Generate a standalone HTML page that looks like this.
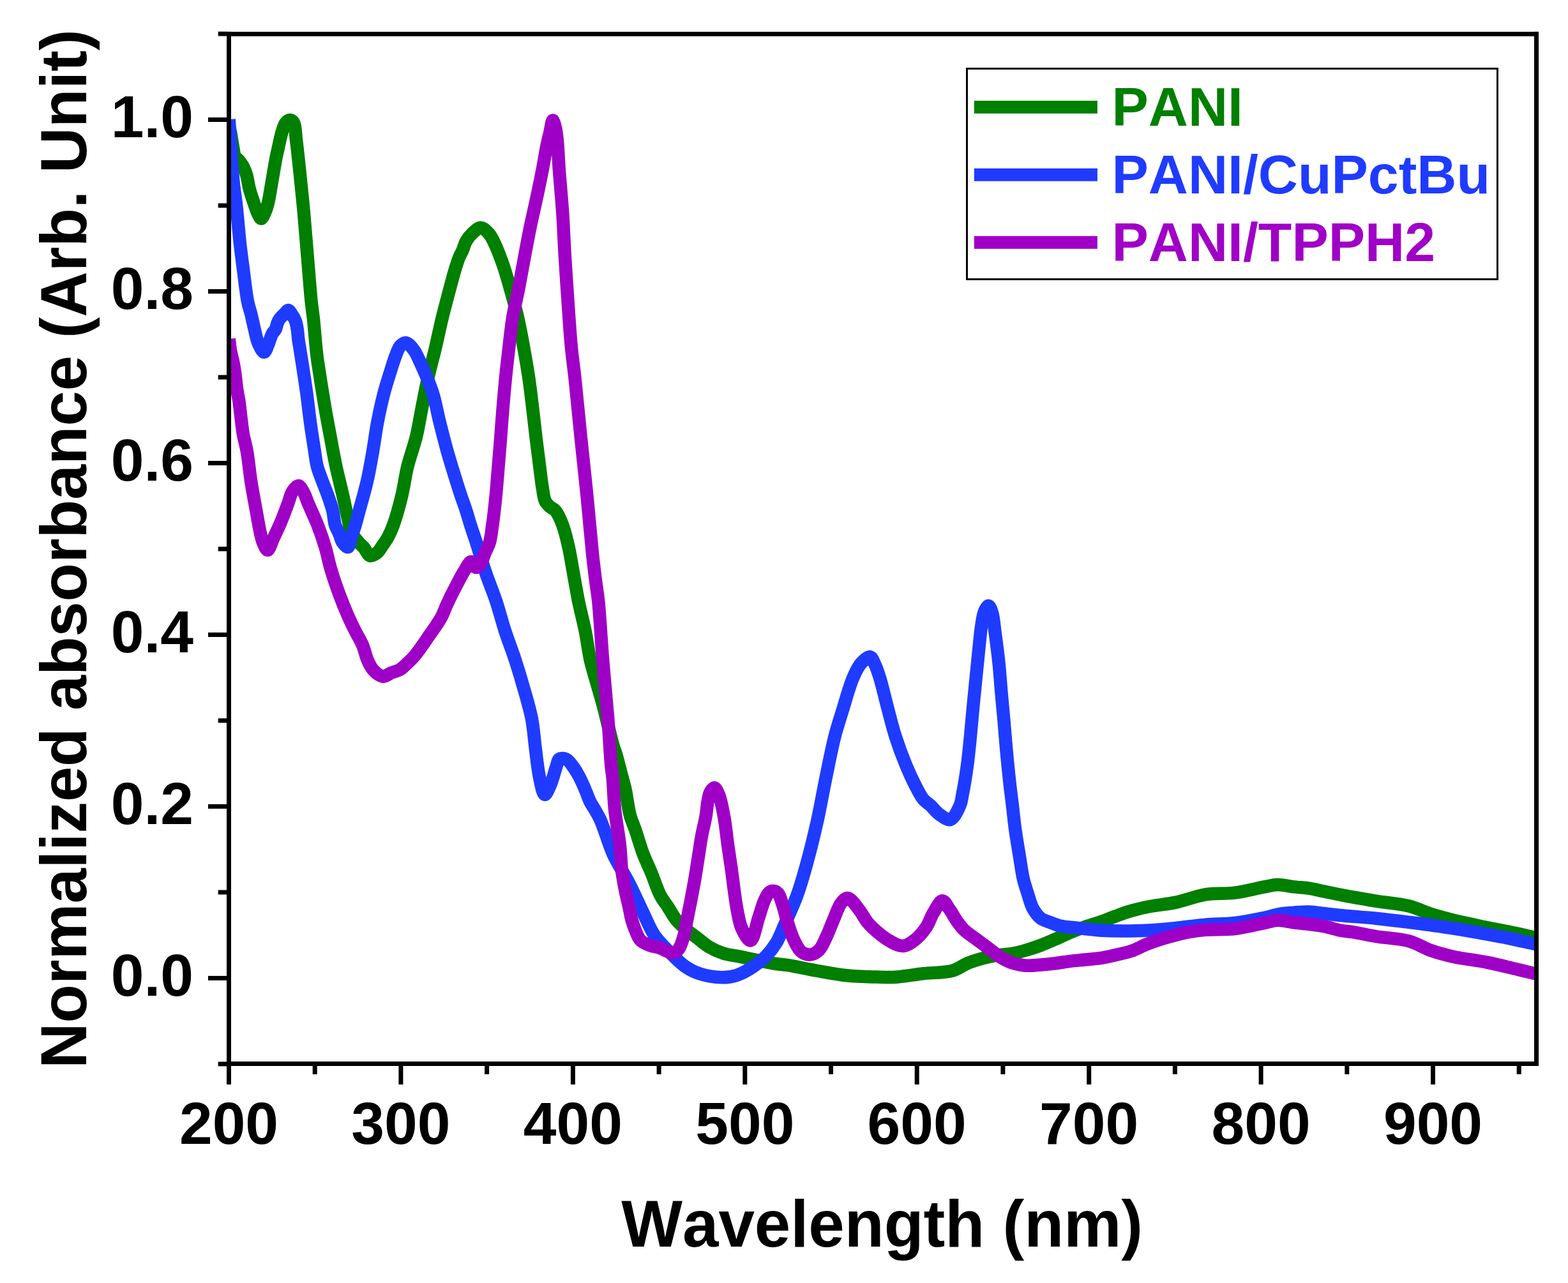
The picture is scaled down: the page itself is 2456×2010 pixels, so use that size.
<!DOCTYPE html><html><head><meta charset="utf-8"><title>Normalized absorbance</title>
<style>html,body{margin:0;padding:0;background:#fff}svg{display:block}text{font-family:"Liberation Sans",Arial,sans-serif;font-weight:bold;font-kerning:none}</style></head><body>
<svg width="2456" height="2010" viewBox="0 0 2456 2010">
<rect width="2456" height="2010" fill="#fff"/>
<defs><clipPath id="pc"><rect x="358.5" y="53.3" width="2048.0" height="1613.2"/></clipPath></defs>
<g clip-path="url(#pc)" fill="none" stroke-width="20.5" stroke-linejoin="round" stroke-linecap="butt">
<path stroke="#007f00" d="M358.5,196.0 C359.4,200.0 360.3,203.3 361.2,208.0 C362.5,214.6 363.9,225.2 365.2,232.0 C366.2,237.0 366.2,241.7 368.0,245.0 C369.4,247.6 372.0,248.6 374.0,251.0 C376.4,253.8 379.0,257.3 381.0,261.0 C383.1,264.8 384.5,268.7 386.0,273.6 C388.0,280.1 388.9,289.1 390.9,296.7 C393.0,304.4 395.9,312.7 398.3,319.7 C400.4,325.6 402.3,331.9 404.5,336.0 C406.0,338.8 407.5,342.5 409.1,342.5 C411.0,342.4 413.3,336.5 415.0,333.0 C416.9,329.0 418.1,325.2 419.5,319.7 C421.8,311.0 423.8,296.7 425.8,285.2 C427.9,273.7 429.9,260.5 431.8,250.6 C433.2,243.1 434.5,237.8 436.0,231.0 C437.7,223.5 439.4,214.4 441.5,207.6 C443.2,202.1 444.5,196.4 447.0,193.0 C448.9,190.5 451.5,188.1 453.7,188.0 C455.8,187.9 458.4,189.5 460.0,192.0 C463.1,196.8 462.7,208.8 464.0,219.0 C465.7,232.3 467.3,248.3 469.1,265.2 C471.3,285.9 473.9,311.2 476.0,334.3 C478.1,357.3 479.9,380.4 481.8,403.5 C483.7,426.5 485.8,454.8 487.6,472.6 C488.8,483.8 489.9,489.5 491.0,500.0 C492.5,514.2 494.2,537.3 495.6,550.0 C496.5,557.8 496.8,560.7 498.0,569.0 C500.3,584.8 505.5,617.3 509.0,638.0 C511.9,655.0 514.6,668.9 517.5,684.3 C520.4,699.7 523.0,715.1 526.3,730.4 C529.6,745.8 533.9,762.2 537.1,776.5 C539.9,788.8 542.3,800.7 544.7,811.0 C546.7,819.5 547.3,827.2 550.5,834.0 C553.5,840.4 559.3,846.7 563.0,851.0 C565.5,854.0 567.6,855.2 570.0,858.0 C573.0,861.5 575.8,869.5 579.5,870.5 C582.8,871.4 587.3,868.5 590.6,866.0 C594.4,863.1 597.3,857.3 600.3,853.0 C603.1,849.0 605.6,845.5 608.0,841.0 C610.9,835.6 613.3,830.2 616.1,822.6 C620.4,810.8 625.6,791.9 629.3,776.5 C633.0,761.2 634.7,745.7 638.5,730.4 C642.3,714.9 648.2,699.8 652.0,684.3 C655.7,669.0 657.9,653.6 661.0,638.2 C664.0,622.9 666.8,607.5 670.3,592.2 C673.8,576.8 678.1,561.5 681.8,546.1 C685.4,530.8 688.4,515.7 692.2,500.0 C696.2,483.5 701.5,463.8 705.3,449.5 C708.1,438.9 710.4,430.1 712.9,421.9 C715.0,415.1 716.9,408.9 719.1,403.5 C720.9,399.1 722.9,396.0 724.7,391.9 C726.6,387.5 727.5,382.4 730.0,378.0 C732.6,373.4 736.4,368.6 740.3,365.0 C744.1,361.6 748.8,356.6 753.0,356.7 C757.1,356.8 761.7,361.6 765.0,365.0 C768.2,368.4 769.9,371.7 772.6,377.0 C777.2,386.0 783.6,402.5 788.0,415.0 C792.1,426.7 794.9,437.1 798.4,449.5 C802.4,463.7 807.0,480.1 810.6,495.6 C814.2,511.2 817.1,527.0 820.0,543.0 C823.0,559.2 825.9,576.1 828.3,592.2 C830.6,607.8 832.3,622.9 834.1,638.2 C836.0,653.6 837.6,668.9 839.4,684.3 C841.3,699.7 843.4,716.1 845.2,730.4 C846.8,742.8 848.1,755.1 849.8,765.0 C851.1,772.6 851.5,779.9 854.0,785.0 C855.8,788.8 858.6,791.3 861.3,793.8 C863.9,796.2 867.3,796.8 870.0,800.0 C874.2,804.9 878.1,814.1 881.3,822.6 C885.1,832.7 888.0,845.5 890.6,857.1 C893.2,868.6 894.7,879.1 897.0,891.7 C899.8,906.9 902.9,925.8 906.2,942.2 C909.4,957.9 913.5,972.8 916.6,988.2 C919.7,1003.5 921.5,1020.2 924.7,1034.3 C927.4,1046.5 930.8,1056.6 934.0,1068.0 C937.3,1079.7 941.0,1091.6 944.2,1103.5 C947.4,1115.6 950.4,1128.4 953.3,1140.0 C956.0,1150.5 958.8,1162.7 961.0,1170.0 C962.3,1174.3 963.2,1175.6 964.5,1180.0 C967.0,1188.0 971.0,1204.5 973.7,1214.6 C975.8,1222.4 977.4,1227.2 979.2,1235.3 C981.8,1246.7 983.7,1265.1 986.8,1276.8 C989.2,1285.8 992.1,1291.3 995.1,1300.0 C998.9,1311.1 1003.2,1326.5 1007.6,1338.2 C1011.5,1348.4 1015.6,1356.4 1019.8,1366.4 C1024.5,1377.6 1029.1,1392.6 1034.2,1402.4 C1038.1,1409.9 1042.3,1414.7 1046.4,1421.1 C1050.7,1427.7 1054.5,1435.3 1059.4,1441.3 C1064.1,1447.0 1069.6,1451.9 1075.0,1456.5 C1080.2,1460.9 1085.5,1464.4 1091.0,1468.6 C1097.0,1473.2 1102.9,1478.9 1109.7,1483.0 C1116.8,1487.2 1124.6,1490.8 1132.8,1493.4 C1141.4,1496.2 1150.9,1497.0 1160.0,1498.9 C1169.3,1500.8 1179.3,1503.0 1188.2,1504.8 C1196.3,1506.4 1203.6,1508.2 1211.3,1509.4 C1219.0,1510.6 1225.3,1510.8 1234.3,1512.2 C1247.0,1514.2 1265.0,1518.3 1280.4,1521.0 C1295.7,1523.7 1311.1,1526.7 1326.5,1528.3 C1341.8,1529.9 1359.2,1530.2 1372.6,1530.6 C1382.9,1530.9 1391.7,1531.4 1400.0,1531.0 C1406.8,1530.7 1411.9,1529.8 1418.7,1529.0 C1427.0,1528.0 1435.8,1526.5 1446.1,1525.3 C1459.5,1523.7 1479.7,1524.3 1492.2,1520.7 C1501.5,1518.0 1507.4,1512.4 1515.2,1509.2 C1522.8,1506.1 1530.5,1503.7 1538.2,1501.6 C1545.8,1499.5 1553.6,1497.7 1561.3,1496.5 C1568.9,1495.3 1576.7,1495.5 1584.3,1494.2 C1592.0,1492.9 1599.8,1490.7 1607.4,1488.5 C1615.1,1486.3 1622.8,1483.8 1630.4,1480.9 C1638.1,1478.0 1645.8,1474.5 1653.5,1471.2 C1661.2,1467.8 1668.8,1464.0 1676.5,1460.8 C1684.1,1457.6 1691.8,1454.8 1699.5,1452.1 C1707.2,1449.4 1714.9,1447.4 1722.6,1444.7 C1730.3,1442.0 1737.9,1438.8 1745.6,1436.0 C1753.3,1433.2 1760.6,1430.3 1768.7,1427.9 C1777.4,1425.3 1785.7,1423.1 1796.1,1421.0 C1809.4,1418.3 1826.9,1416.8 1842.2,1413.6 C1857.6,1410.3 1872.7,1403.9 1888.2,1401.4 C1903.4,1398.9 1919.0,1400.6 1934.3,1398.6 C1949.7,1396.6 1968.0,1391.7 1980.4,1389.4 C1988.7,1387.9 1993.9,1386.0 2001.2,1385.9 C2009.2,1385.8 2018.2,1388.4 2026.5,1389.4 C2034.5,1390.3 2042.3,1390.4 2050.0,1391.6 C2057.6,1392.7 2064.6,1394.6 2072.6,1396.3 C2081.8,1398.2 2091.0,1400.2 2102.3,1402.4 C2117.3,1405.3 2137.2,1408.7 2154.7,1411.6 C2172.1,1414.4 2191.5,1415.6 2207.0,1419.5 C2220.0,1422.8 2230.2,1428.3 2241.9,1432.0 C2253.5,1435.7 2263.9,1438.4 2276.8,1441.6 C2292.4,1445.5 2311.7,1449.3 2329.1,1453.0 C2346.5,1456.6 2367.7,1460.5 2381.4,1463.5 C2390.3,1465.4 2397.6,1467.4 2403.3,1468.7 C2406.9,1469.5 2409.1,1469.9 2412.0,1470.5"/>
<path stroke="#1f3bff" d="M358.8,187.0 C359.9,204.3 360.8,222.2 362.0,239.0 C363.1,254.8 364.0,270.7 365.5,285.0 C366.8,297.5 368.9,309.9 370.0,320.0 C370.9,327.6 371.2,332.2 372.0,340.0 C373.1,351.0 374.3,366.2 375.8,380.0 C377.4,394.9 379.6,411.0 381.6,426.5 C383.6,441.9 385.6,460.7 388.0,472.6 C389.6,480.3 391.4,484.9 393.1,491.5 C394.9,498.8 396.5,506.9 398.4,514.6 C400.3,522.3 401.6,531.0 404.5,537.6 C406.9,543.1 411.0,551.9 413.7,551.8 C416.1,551.7 418.0,544.4 420.0,540.0 C422.3,534.9 424.1,527.0 426.5,522.7 C428.1,519.8 430.3,518.6 431.6,516.0 C433.0,513.2 433.3,509.4 434.5,506.5 C435.5,503.9 436.3,501.8 438.0,499.5 C440.1,496.5 444.2,493.1 446.7,490.6 C448.5,488.8 449.7,485.9 451.4,486.0 C453.6,486.1 456.7,492.0 458.7,495.0 C460.5,497.7 461.8,500.0 462.9,503.0 C464.2,506.4 464.8,510.3 465.5,514.6 C466.4,519.7 466.7,526.5 467.4,531.8 C468.0,536.5 468.7,539.9 469.5,545.0 C470.6,551.8 471.9,559.8 473.3,569.1 C475.3,582.0 478.1,599.8 480.2,615.2 C482.3,630.6 483.9,645.9 486.0,661.3 C488.1,676.7 490.9,694.7 492.9,707.4 C494.3,716.4 494.9,722.8 496.8,730.4 C498.8,738.2 502.0,745.8 504.8,753.5 C507.6,761.2 510.9,768.8 513.6,776.5 C516.3,784.1 519.1,791.8 521.0,799.5 C522.9,807.1 523.0,815.9 525.0,822.4 C526.6,827.6 529.3,831.4 531.2,836.0 C533.2,840.6 534.1,846.2 536.7,849.9 C538.9,853.1 542.9,857.8 545.0,857.2 C547.5,856.5 548.1,848.2 549.8,843.0 C551.9,836.7 554.6,829.2 556.7,822.2 C558.8,815.3 560.1,809.8 562.3,801.5 C565.7,788.8 571.5,769.4 575.1,753.5 C578.6,738.0 581.2,722.8 583.9,707.4 C586.6,692.1 588.4,676.6 591.3,661.3 C594.3,645.9 597.9,629.4 601.6,615.2 C604.9,602.8 608.7,590.9 612.0,580.6 C614.7,572.1 616.9,564.4 619.6,557.6 C621.9,551.8 623.8,545.5 627.0,542.0 C629.5,539.3 632.7,536.6 635.7,536.9 C639.6,537.3 644.4,543.3 648.0,548.0 C652.3,553.6 654.9,560.6 658.8,569.1 C664.4,581.4 672.6,599.6 677.6,615.2 C682.5,630.4 684.9,646.0 688.7,661.3 C692.6,676.7 696.6,692.9 700.7,707.4 C704.4,720.6 708.3,733.0 712.0,745.0 C715.4,756.0 718.8,766.8 722.0,776.5 C724.8,784.8 727.5,791.8 730.0,799.5 C732.5,807.2 734.5,814.6 737.0,822.6 C739.8,831.4 742.8,839.7 746.1,850.0 C750.4,863.4 755.2,880.8 760.4,896.1 C765.6,911.5 772.1,926.8 777.2,942.2 C782.3,957.5 786.0,972.9 791.0,988.2 C796.0,1003.6 802.1,1018.9 807.1,1034.3 C812.1,1049.6 816.7,1065.0 821.0,1080.4 C825.3,1095.7 830.0,1111.0 833.0,1126.5 C835.9,1141.8 836.7,1157.2 838.7,1172.6 C840.7,1188.0 842.3,1205.6 845.2,1218.7 C847.4,1228.8 850.0,1244.5 853.2,1244.9 C855.8,1245.2 859.3,1236.0 862.0,1230.0 C865.7,1221.9 869.0,1207.5 871.7,1200.0 C873.3,1195.4 873.4,1190.7 876.0,1189.0 C878.5,1187.3 883.7,1188.0 887.0,1189.5 C890.9,1191.3 894.3,1196.6 897.4,1200.7 C900.7,1204.9 903.5,1209.9 906.1,1214.6 C908.6,1219.1 910.8,1223.8 912.9,1228.4 C915.0,1233.0 916.8,1237.6 918.7,1242.2 C920.6,1246.8 922.0,1251.5 924.3,1256.0 C926.6,1260.7 930.0,1265.2 932.6,1269.9 C935.2,1274.5 937.8,1279.0 940.0,1283.7 C942.1,1288.2 943.3,1291.7 945.5,1297.5 C949.3,1307.5 954.2,1324.5 960.4,1338.2 C967.3,1353.3 977.8,1368.8 985.7,1384.3 C993.5,1399.6 1000.7,1416.2 1007.6,1430.4 C1013.6,1442.8 1017.8,1454.5 1024.9,1465.0 C1031.9,1475.3 1041.6,1484.5 1050.0,1493.0 C1057.6,1500.7 1064.9,1508.4 1073.0,1514.0 C1080.4,1519.1 1087.4,1522.8 1096.1,1525.6 C1106.2,1528.9 1120.2,1531.2 1130.6,1531.3 C1139.1,1531.4 1146.2,1530.3 1153.7,1527.9 C1161.6,1525.4 1169.3,1521.2 1176.7,1516.4 C1184.7,1511.3 1193.1,1504.7 1199.8,1497.9 C1206.1,1491.5 1211.2,1484.9 1215.9,1477.2 C1220.9,1468.9 1224.0,1459.9 1228.6,1449.5 C1234.5,1436.1 1242.5,1419.0 1248.2,1403.5 C1253.8,1388.3 1257.7,1374.4 1262.4,1357.4 C1268.2,1336.7 1274.5,1311.3 1279.7,1288.2 C1284.9,1265.2 1288.8,1241.8 1293.5,1219.1 C1298.1,1196.9 1302.5,1173.4 1307.6,1153.5 C1311.9,1136.7 1317.6,1120.1 1321.4,1107.4 C1324.1,1098.4 1325.8,1092.0 1328.3,1084.3 C1330.8,1076.6 1333.1,1068.7 1336.4,1061.3 C1339.7,1053.9 1343.2,1045.6 1348.0,1040.0 C1352.2,1035.1 1359.1,1028.3 1362.9,1029.0 C1366.1,1029.6 1367.8,1035.6 1370.0,1040.0 C1372.9,1045.8 1375.2,1052.8 1377.9,1061.3 C1381.8,1073.7 1385.8,1092.0 1389.9,1107.4 C1394.0,1122.8 1397.6,1138.2 1402.5,1153.5 C1407.4,1168.9 1413.5,1185.4 1419.4,1199.5 C1424.6,1212.0 1430.5,1224.6 1435.5,1234.1 C1439.2,1241.1 1442.1,1247.2 1446.1,1252.0 C1449.5,1256.1 1453.5,1258.2 1457.4,1261.8 C1461.8,1265.9 1466.0,1271.9 1471.2,1275.6 C1476.4,1279.3 1483.5,1285.4 1488.6,1284.0 C1494.6,1282.4 1500.6,1268.6 1503.7,1261.5 C1506.1,1256.0 1506.1,1252.3 1507.4,1245.6 C1509.7,1234.3 1512.9,1214.9 1515.0,1199.5 C1517.1,1184.2 1518.5,1168.8 1520.0,1153.5 C1521.5,1138.1 1522.7,1122.8 1524.2,1107.4 C1525.7,1092.0 1527.3,1076.7 1528.8,1061.3 C1530.3,1045.9 1531.9,1029.5 1533.4,1015.2 C1534.7,1002.8 1535.7,990.9 1537.3,980.6 C1538.6,972.2 1539.5,963.6 1542.0,958.0 C1543.7,954.1 1546.4,949.0 1548.4,949.1 C1550.5,949.3 1552.5,955.2 1554.0,960.0 C1556.5,967.8 1557.2,980.5 1558.8,992.2 C1560.7,1006.2 1562.9,1022.8 1564.5,1038.2 C1566.1,1053.5 1567.1,1068.9 1568.4,1084.3 C1569.8,1099.7 1571.2,1115.0 1572.6,1130.4 C1573.9,1145.8 1575.1,1161.1 1576.5,1176.5 C1577.9,1191.9 1579.5,1208.0 1581.1,1222.6 C1582.5,1235.7 1584.1,1247.5 1585.6,1260.0 C1587.1,1272.6 1588.2,1284.9 1590.0,1298.0 C1591.9,1312.2 1594.7,1328.4 1597.0,1342.2 C1599.0,1354.4 1600.4,1366.4 1602.8,1376.7 C1604.8,1385.2 1607.2,1392.1 1609.7,1399.8 C1612.2,1407.5 1614.0,1416.1 1617.7,1422.8 C1621.1,1429.0 1625.5,1435.2 1630.4,1438.9 C1634.5,1442.1 1639.4,1442.8 1644.2,1444.7 C1649.4,1446.7 1654.2,1449.0 1660.4,1450.5 C1668.3,1452.4 1678.3,1452.8 1688.0,1453.9 C1698.9,1455.1 1711.1,1456.6 1722.6,1457.4 C1734.1,1458.2 1745.0,1458.5 1757.1,1458.5 C1770.6,1458.5 1785.8,1458.2 1800.0,1457.4 C1814.1,1456.6 1827.8,1455.3 1842.2,1453.9 C1857.2,1452.4 1872.8,1449.9 1888.2,1448.6 C1903.5,1447.3 1919.0,1447.7 1934.3,1445.9 C1949.7,1444.1 1967.7,1440.5 1980.4,1437.8 C1989.5,1435.9 1995.8,1433.4 2003.5,1432.0 C2011.1,1430.7 2018.8,1430.3 2026.5,1429.7 C2034.3,1429.1 2042.3,1428.4 2050.0,1428.6 C2057.6,1428.8 2064.6,1430.0 2072.6,1430.9 C2081.8,1431.9 2091.0,1433.2 2102.3,1434.3 C2117.3,1435.8 2137.3,1437.0 2154.7,1438.7 C2172.2,1440.5 2189.6,1442.6 2207.0,1444.8 C2224.4,1447.0 2241.9,1449.2 2259.3,1451.8 C2276.8,1454.4 2294.3,1457.5 2311.7,1460.5 C2329.2,1463.6 2347.8,1466.8 2364.0,1470.1 C2378.1,1472.9 2394.9,1477.1 2403.3,1478.8 C2407.2,1479.6 2409.1,1479.9 2412.0,1480.5"/>
<path stroke="#9f00c6" d="M358.8,531.0 C359.5,537.0 360.0,543.1 361.0,549.0 C362.0,554.8 363.8,560.3 365.0,566.0 C366.2,571.8 367.1,577.2 368.0,583.7 C369.1,591.6 370.0,601.9 371.2,610.0 C372.2,617.1 373.6,622.8 374.6,629.8 C375.7,637.7 376.5,646.6 377.6,655.0 C378.6,663.4 379.4,671.5 380.9,680.0 C382.5,689.0 385.1,697.0 386.9,707.4 C389.3,720.7 390.7,738.2 393.1,753.5 C395.5,768.9 398.6,785.3 401.2,799.5 C403.4,811.9 405.5,824.8 407.6,834.1 C409.1,840.5 409.9,845.2 412.0,850.0 C413.9,854.4 416.7,861.9 419.1,861.8 C422.1,861.7 425.1,850.0 428.3,843.3 C432.0,835.6 436.2,826.9 439.9,818.0 C443.9,808.5 448.1,796.8 451.4,788.0 C454.0,781.1 455.1,774.3 458.3,769.6 C460.8,765.8 464.6,760.8 467.5,761.0 C470.5,761.2 473.6,767.8 476.0,772.0 C478.7,776.7 479.8,781.7 482.5,788.0 C486.4,797.4 493.0,811.0 497.5,822.6 C501.9,834.0 505.9,845.5 509.4,857.1 C512.8,868.6 514.7,879.9 518.2,891.7 C521.9,904.4 526.7,918.1 531.3,930.6 C535.7,942.5 540.7,954.9 545.2,965.2 C548.9,973.7 552.4,980.6 556.2,988.2 C560.1,995.9 564.9,1003.5 568.2,1011.3 C571.4,1018.8 572.7,1027.5 575.8,1034.3 C578.5,1040.2 580.9,1045.8 585.0,1050.0 C589.0,1054.2 595.1,1059.3 600.0,1059.7 C604.4,1060.1 608.6,1055.8 613.0,1054.0 C617.4,1052.2 622.5,1051.4 626.5,1049.0 C630.5,1046.7 633.4,1043.3 637.0,1040.0 C641.1,1036.2 644.9,1032.8 649.5,1027.4 C656.3,1019.3 665.4,1005.6 672.6,995.2 C679.2,985.7 686.2,976.2 691.0,967.5 C694.9,960.3 696.6,954.3 700.0,947.0 C704.0,938.4 709.1,928.1 713.8,919.1 C718.3,910.4 723.1,900.8 727.6,893.8 C731.1,888.4 734.7,880.1 738.0,880.0 C740.8,879.9 743.4,888.9 746.0,889.0 C748.4,889.1 750.9,885.4 753.0,882.5 C755.8,878.5 757.6,871.5 759.9,866.1 C762.2,860.7 765.0,856.2 766.8,850.0 C769.1,842.2 769.9,832.9 771.4,822.6 C773.3,809.2 775.2,791.9 776.7,776.5 C778.2,761.1 779.3,745.8 780.6,730.4 C781.9,715.0 783.1,699.7 784.3,684.3 C785.5,668.9 786.5,653.6 787.8,638.2 C789.1,622.9 790.4,607.5 791.9,592.2 C793.4,576.8 795.2,561.6 797.0,546.1 C798.9,530.2 800.4,514.0 803.0,498.0 C805.7,481.8 809.8,465.5 812.9,449.5 C815.9,434.0 818.5,418.8 821.4,403.5 C824.3,388.1 827.1,372.7 830.2,357.4 C833.4,342.0 837.0,326.7 840.3,311.3 C843.6,295.9 847.0,279.5 849.8,265.2 C852.2,252.9 853.9,240.9 856.0,230.6 C857.7,222.1 859.6,214.9 861.3,207.6 C862.9,200.9 864.3,188.6 865.9,188.5 C867.2,188.4 868.9,195.6 870.0,200.0 C871.4,205.5 872.0,211.3 872.8,219.1 C874.1,231.1 874.6,248.3 875.8,265.2 C877.3,285.9 879.8,311.2 881.3,334.3 C882.8,357.3 883.6,380.4 885.0,403.5 C886.4,426.5 888.0,449.6 889.6,472.6 C891.2,495.6 892.7,520.5 894.7,541.7 C896.4,559.9 898.4,572.8 900.5,592.2 C903.3,618.3 906.6,653.6 909.7,684.3 C912.9,715.0 916.3,745.8 919.4,776.5 C922.5,807.2 925.5,844.1 928.1,868.7 C929.9,885.2 931.4,897.1 933.0,910.0 C934.4,921.4 935.9,928.7 937.3,942.2 C939.7,965.0 941.7,1003.6 944.2,1034.3 C946.7,1065.0 950.0,1097.5 952.3,1126.5 C954.3,1152.4 955.8,1183.6 957.4,1200.0 C958.2,1208.3 959.0,1210.9 959.7,1218.7 C960.9,1231.4 961.3,1252.0 963.1,1269.1 C965.0,1286.8 968.9,1306.2 970.8,1323.2 C972.5,1338.4 972.7,1353.5 974.4,1366.4 C975.8,1377.0 977.5,1385.6 979.4,1395.2 C981.3,1404.8 984.2,1416.0 985.9,1424.0 C987.1,1429.6 987.6,1433.6 988.8,1438.4 C990.1,1443.2 991.3,1447.7 993.4,1452.8 C995.9,1459.0 998.7,1468.2 1003.2,1473.0 C1007.1,1477.1 1012.7,1479.0 1017.6,1480.9 C1022.3,1482.7 1027.3,1482.9 1032.0,1484.5 C1036.9,1486.2 1042.3,1489.4 1046.4,1490.9 C1049.3,1492.0 1051.5,1493.7 1054.0,1493.3 C1057.0,1492.8 1060.5,1490.2 1063.0,1487.0 C1066.5,1482.5 1068.7,1474.5 1070.9,1467.2 C1073.4,1458.6 1074.7,1448.0 1076.6,1438.4 C1078.5,1428.8 1080.5,1419.2 1082.4,1409.6 C1084.2,1400.0 1085.9,1390.9 1087.7,1380.8 C1089.7,1369.5 1091.6,1356.8 1093.5,1344.8 C1095.4,1332.8 1097.1,1320.1 1099.2,1308.8 C1101.1,1298.6 1103.7,1289.4 1105.4,1280.0 C1107.0,1271.1 1107.4,1261.0 1109.0,1253.7 C1110.1,1248.3 1110.9,1243.4 1113.0,1240.0 C1114.6,1237.4 1117.1,1233.9 1119.1,1234.1 C1121.5,1234.4 1123.9,1240.1 1126.0,1245.0 C1129.4,1253.2 1131.9,1267.7 1134.2,1280.0 C1136.7,1293.6 1138.1,1309.5 1140.0,1323.2 C1141.8,1335.8 1143.3,1345.3 1145.3,1359.2 C1148.0,1378.1 1151.3,1408.9 1154.8,1426.5 C1157.1,1438.1 1158.2,1446.8 1162.0,1455.0 C1165.4,1462.3 1171.6,1474.3 1175.6,1473.7 C1180.7,1473.0 1184.4,1449.1 1188.2,1438.0 C1191.6,1428.2 1194.1,1417.6 1197.5,1410.4 C1199.9,1405.3 1202.0,1400.3 1205.0,1398.0 C1207.2,1396.3 1210.1,1395.6 1212.4,1395.9 C1214.7,1396.2 1217.1,1397.8 1219.0,1400.0 C1221.7,1403.2 1223.0,1409.0 1225.1,1415.0 C1228.1,1423.6 1231.1,1437.2 1234.3,1447.2 C1237.2,1456.2 1239.8,1465.0 1243.5,1472.6 C1246.8,1479.4 1250.3,1487.2 1255.1,1491.0 C1259.1,1494.1 1264.4,1495.9 1268.9,1495.6 C1273.6,1495.3 1278.8,1492.5 1282.7,1488.7 C1287.6,1484.0 1290.6,1475.5 1294.2,1468.0 C1298.3,1459.5 1301.9,1449.3 1305.8,1440.3 C1309.6,1431.6 1312.8,1420.8 1317.3,1415.0 C1320.4,1411.0 1323.8,1406.7 1327.6,1406.9 C1332.7,1407.2 1339.7,1417.9 1344.9,1424.2 C1350.1,1430.6 1353.9,1438.9 1358.8,1444.9 C1363.2,1450.2 1367.5,1454.4 1372.6,1458.8 C1378.1,1463.6 1384.3,1468.8 1391.0,1472.6 C1398.0,1476.6 1406.4,1482.3 1413.8,1482.0 C1421.0,1481.7 1428.5,1476.0 1434.6,1471.2 C1440.8,1466.3 1446.1,1459.6 1450.7,1452.8 C1455.4,1445.8 1457.8,1436.8 1462.2,1429.7 C1466.3,1423.0 1471.5,1411.4 1476.0,1411.3 C1480.0,1411.2 1483.9,1420.0 1487.6,1425.1 C1491.6,1430.7 1495.1,1437.9 1499.1,1443.5 C1502.8,1448.6 1506.0,1453.0 1510.6,1457.4 C1515.8,1462.3 1522.9,1466.6 1529.0,1471.2 C1535.2,1475.8 1541.3,1480.4 1547.5,1485.0 C1553.6,1489.6 1559.6,1494.9 1565.9,1498.8 C1571.9,1502.5 1577.6,1505.8 1584.3,1508.1 C1591.4,1510.6 1599.7,1512.1 1607.4,1512.7 C1615.0,1513.3 1622.7,1512.1 1630.4,1511.5 C1638.1,1510.9 1645.8,1510.1 1653.5,1509.2 C1661.2,1508.2 1668.8,1506.8 1676.5,1505.8 C1684.2,1504.9 1691.8,1504.3 1699.5,1503.5 C1707.2,1502.7 1714.9,1502.4 1722.6,1501.2 C1730.3,1500.0 1737.6,1498.3 1745.6,1496.5 C1754.4,1494.5 1764.4,1492.6 1773.0,1489.6 C1781.2,1486.8 1788.3,1482.4 1796.1,1479.3 C1803.7,1476.3 1811.4,1473.6 1819.1,1471.2 C1826.8,1468.8 1834.5,1466.6 1842.2,1464.7 C1849.8,1462.8 1857.5,1461.0 1865.2,1459.7 C1872.8,1458.4 1879.2,1457.4 1888.2,1456.7 C1900.9,1455.7 1919.0,1456.9 1934.3,1455.1 C1949.7,1453.3 1968.1,1448.4 1980.4,1445.9 C1988.7,1444.2 1993.9,1441.9 2001.2,1441.7 C2009.2,1441.5 2018.2,1444.2 2026.5,1445.2 C2034.5,1446.2 2042.2,1446.8 2050.0,1447.8 C2057.6,1448.7 2064.6,1449.4 2072.6,1450.9 C2081.9,1452.7 2093.8,1456.7 2102.3,1458.2 C2108.5,1459.3 2112.2,1459.1 2118.7,1460.1 C2128.4,1461.6 2141.6,1464.8 2154.7,1467.0 C2170.5,1469.6 2191.6,1470.1 2207.0,1474.4 C2220.1,1478.0 2230.1,1485.2 2241.9,1489.3 C2253.4,1493.3 2263.9,1496.1 2276.8,1498.9 C2292.4,1502.3 2311.7,1504.1 2329.1,1507.6 C2346.6,1511.1 2367.7,1516.6 2381.4,1519.8 C2390.3,1521.9 2397.6,1523.8 2403.3,1525.0 C2406.8,1525.7 2409.1,1526.0 2412.0,1526.5"/>
</g>
<g fill="#000">
<rect x="355.0" y="49.8" width="7" height="1620.2"/>
<rect x="2403.0" y="49.8" width="7" height="1620.2"/>
<rect x="355.0" y="49.8" width="2055.0" height="7"/>
<rect x="355.0" y="1663.0" width="2055.0" height="7"/>
<rect x="341.7" y="1663.4" width="13.3" height="7"/>
<rect x="326.0" y="1528.9" width="29" height="7"/>
<rect x="341.7" y="1394.4" width="13.3" height="7"/>
<rect x="326.0" y="1259.9" width="29" height="7"/>
<rect x="341.7" y="1125.4" width="13.3" height="7"/>
<rect x="326.0" y="990.9" width="29" height="7"/>
<rect x="341.7" y="856.5" width="13.3" height="7"/>
<rect x="326.0" y="722.0" width="29" height="7"/>
<rect x="341.7" y="587.5" width="13.3" height="7"/>
<rect x="326.0" y="453.0" width="29" height="7"/>
<rect x="341.7" y="318.5" width="13.3" height="7"/>
<rect x="326.0" y="184.0" width="29" height="7"/>
<rect x="341.7" y="49.5" width="13.3" height="7"/>
<rect x="355.0" y="1670.0" width="7" height="29"/>
<rect x="489.7" y="1670.0" width="7" height="13"/>
<rect x="624.4" y="1670.0" width="7" height="29"/>
<rect x="759.1" y="1670.0" width="7" height="13"/>
<rect x="893.9" y="1670.0" width="7" height="29"/>
<rect x="1028.6" y="1670.0" width="7" height="13"/>
<rect x="1163.3" y="1670.0" width="7" height="29"/>
<rect x="1298.0" y="1670.0" width="7" height="13"/>
<rect x="1432.7" y="1670.0" width="7" height="29"/>
<rect x="1567.4" y="1670.0" width="7" height="13"/>
<rect x="1702.2" y="1670.0" width="7" height="29"/>
<rect x="1836.9" y="1670.0" width="7" height="13"/>
<rect x="1971.6" y="1670.0" width="7" height="29"/>
<rect x="2106.3" y="1670.0" width="7" height="13"/>
<rect x="2241.0" y="1670.0" width="7" height="29"/>
<rect x="2375.7" y="1670.0" width="7" height="13"/>
</g>
<g font-size="93" fill="#000">
<text x="303" y="1559.9" text-anchor="end">0.0</text>
<text x="303" y="1290.9" text-anchor="end">0.2</text>
<text x="303" y="1021.9" text-anchor="end">0.4</text>
<text x="303" y="753.0" text-anchor="end">0.6</text>
<text x="303" y="484.0" text-anchor="end">0.8</text>
<text x="303" y="215.0" text-anchor="end">1.0</text>
<text x="358.5" y="1792" text-anchor="middle">200</text>
<text x="627.9" y="1792" text-anchor="middle">300</text>
<text x="897.4" y="1792" text-anchor="middle">400</text>
<text x="1166.8" y="1792" text-anchor="middle">500</text>
<text x="1436.2" y="1792" text-anchor="middle">600</text>
<text x="1705.7" y="1792" text-anchor="middle">700</text>
<text x="1975.1" y="1792" text-anchor="middle">800</text>
<text x="2244.5" y="1792" text-anchor="middle">900</text>
</g>
<text transform="translate(1381.7 1953.3) scale(1 1.02)" font-size="101.4" text-anchor="middle">Wavelength (nm)</text>
<text transform="translate(135.1 860) rotate(-90) scale(1 1.025)" font-size="99" text-anchor="middle">Normalized absorbance (Arb. Unit)</text>
<rect x="1514.5" y="107.5" width="831" height="330" fill="none" stroke="#000" stroke-width="3"/>
<rect x="1525.8" y="157.8" width="193.1" height="20" fill="#007f00"/>
<text x="1741.5" y="196.7" font-size="86" fill="#007f00">PANI</text>
<rect x="1525.8" y="263.8" width="193.1" height="20" fill="#1f3bff"/>
<text x="1741.5" y="302.8" font-size="86" fill="#1f3bff">PANI/CuPctBu</text>
<rect x="1525.8" y="369.8" width="193.1" height="20" fill="#9f00c6"/>
<text x="1741.5" y="408.9" font-size="86" fill="#9f00c6">PANI/TPPH2</text>
</svg></body></html>
